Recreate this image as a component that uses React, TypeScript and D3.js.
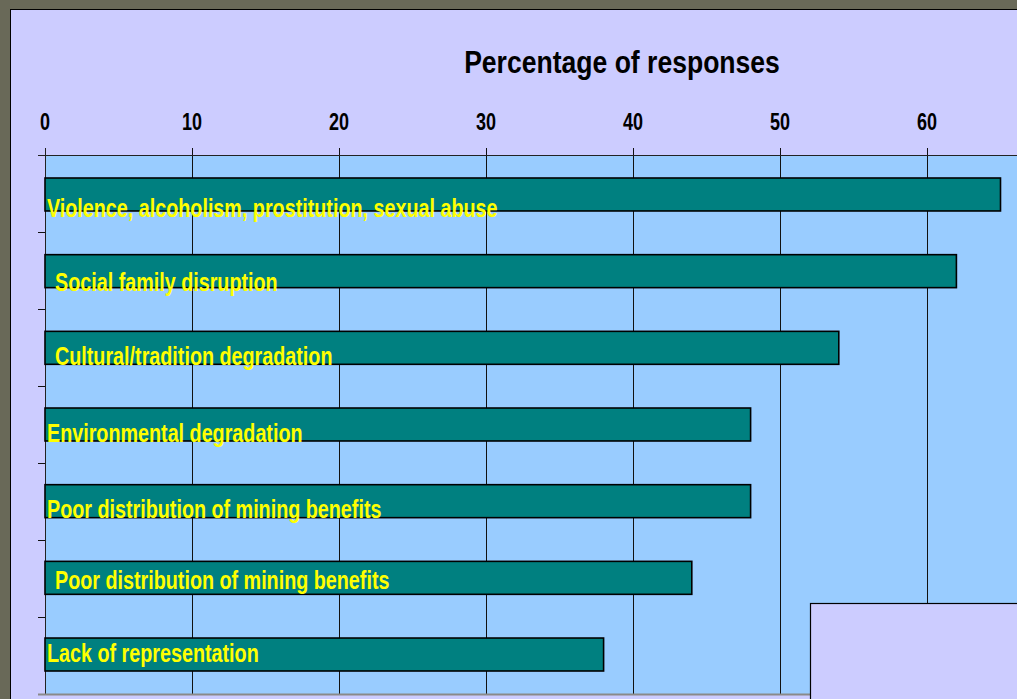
import React from 'react';
import * as d3 from 'd3';

const W = 1017;
const H = 699;

// categories, top to bottom
const categories = [
  'Violence, alcoholism, prostitution, sexual abuse',
  'Social family disruption',
  'Cultural/tradition degradation',
  'Environmental degradation',
  'Poor distribution of mining benefits',
  'Poor distribution of mining benefits',
  'Lack of representation',
];
const percentages = [65, 62, 54, 48, 48, 44, 38];
const tickValues = [0, 10, 20, 30, 40, 50, 60];

// hand-placed text boxes in the original: x nudge and baseline offset from band centre
const labelDx = [2, 10, 10, 2, 2, 10, 2];
const labelDy = [23.5, 20.5, 17.5, 17.5, 16.5, 10.5, 6.5];

const font = 'Arial, "Liberation Sans", sans-serif';

const App = () => {
  const plotTop = 155;
  const plotBottom = 694;
  const x = d3.scaleLinear().domain([0, 60]).range([45, 927]);
  const y = d3.scaleBand<number>()
    .domain(d3.range(categories.length))
    .range([plotTop, plotBottom])
    .paddingInner(0.57)
    .paddingOuter(0.3);
  // category axis ticks split the plot evenly
  const step = (plotBottom - plotTop) / categories.length;

  return (
    <svg width={W} height={H} style={{ position: 'absolute', left: 0, top: 0 }}>
      <rect x={0} y={0} width={W} height={H} fill="#CCCCFF" />
      {/* frame */}
      <rect x={0} y={0} width={10} height={H} fill="#696958" />
      <rect x={0} y={0} width={W} height={9} fill="#696958" />
      <line x1={10.5} y1={9} x2={10.5} y2={H} stroke="#000" />
      <line x1={10} y1={9.5} x2={W} y2={9.5} stroke="#000" />

      {/* title */}
      <text transform={`translate(622,73) scale(0.83,1)`} textAnchor="middle"
        fontFamily={font} fontWeight="bold" fontSize={32} fill="#000">
        Percentage of responses
      </text>

      {/* plot area */}
      <rect x={x(0)} y={plotTop} width={W - x(0)} height={plotBottom - plotTop} fill="#99CCFF" />

      {/* grid lines */}
      {tickValues.slice(1).map(t => (
        <line key={'g' + t} x1={Math.round(x(t)) + 0.5} x2={Math.round(x(t)) + 0.5}
          y1={plotTop} y2={plotBottom} stroke="#111" strokeWidth={1} />
      ))}

      {/* top axis */}
      <line x1={38} x2={W} y1={plotTop + 0.5} y2={plotTop + 0.5} stroke="#222" strokeWidth={1.2} />
      {tickValues.map(t => (
        <g key={'t' + t}>
          <line x1={Math.round(x(t)) + 0.5} x2={Math.round(x(t)) + 0.5} y1={148} y2={plotTop}
            stroke="#111" />
          <text transform={`translate(${x(t)},130) scale(0.75,1)`} textAnchor="middle"
            fontFamily={font} fontWeight="bold" fontSize={24} fill="#000">
            {t}
          </text>
        </g>
      ))}

      {/* left axis */}
      <line x1={x(0) + 0.5} x2={x(0) + 0.5} y1={148} y2={plotBottom} stroke="#222" />
      {d3.range(1, categories.length + 1).map(i => (
        <line key={'l' + i} x1={38} x2={x(0)} y1={Math.round(plotTop + i * step) + 0.5}
          y2={Math.round(plotTop + i * step) + 0.5} stroke="#111" />
      ))}

      {/* bars */}
      {percentages.map((v, i) => (
        <rect key={'b' + i} x={x(0)} y={y(i)} width={x(v) - x(0)} height={y.bandwidth()}
          fill="#008080" stroke="#000" strokeWidth={1.6} />
      ))}

      {/* bar labels */}
      {categories.map((c, i) => (
        <text key={'c' + i}
          transform={`translate(${x(0) + labelDx[i]},${plotTop + (i + 0.5) * step + labelDy[i]}) scale(0.79,1)`}
          fontFamily={font} fontWeight="bold" fontSize={25} fill="#FFFF00">
          {c}
        </text>
      ))}

      {/* bottom edge and clipped legend box */}
      <line x1={38} x2={810} y1={plotBottom + 0.5} y2={plotBottom + 0.5} stroke="#8a8a8a" strokeWidth={2} />
      <rect x={810.5} y={603.5} width={260} height={150} fill="#CCCCFF" stroke="#000" strokeWidth={1.2} />
    </svg>
  );
};

export default App;
